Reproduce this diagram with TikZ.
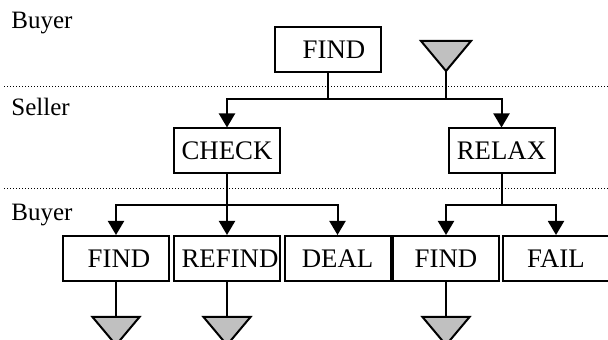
\documentclass[tikz,border=0pt]{standalone}
\usepackage{fontspec}
\setmainfont{Liberation Serif}
\definecolor{LineColor}{RGB}{0,0,0}
\definecolor{StubColor}{RGB}{192,192,192}
\usetikzlibrary{arrows.meta, calc}
\tikzstyle{move} = [draw=LineColor, line width=1pt, minimum width=53pt, minimum height=22.5pt, inner sep=0pt, font=\fontsize{13.4}{16}\selectfont]
\tikzstyle{arrow} = [line width=1pt, LineColor, -{Triangle[width=8pt,length=7pt]}]
\tikzstyle{link} = [line width=1pt, LineColor]
\tikzstyle{stub} = [line width=1pt, draw=LineColor, fill=StubColor, line join=miter]
\tikzstyle{level} = [line width=0.5pt, LineColor, dash pattern=on 0.5pt off 1pt]
\tikzstyle{role} = [anchor=base west, inner sep=0pt]

\begin{document}
\begin{tikzpicture}[x=0.5pt, y=-0.5pt, font=\fontsize{12.5}{15}\selectfont]
            \useasboundingbox (0,0) rectangle (608,340);
            \clip (0,0) rectangle (608,340);

            % level separators
            \draw[level] (4,87) -- (608,87);
            \draw[level] (4,189) -- (608,189);
            \node[role] (buyer1) at (11,29) {Buyer};
            \node[role] (seller) at (11,116) {Seller};
            \node[role] (buyer2) at (11,221) {Buyer};

            % Buyer: first move
            \node[move] (find0) at (328,49.5) {\hspace*{6pt}FIND};
            \coordinate (t0) at (446,71);
            \draw[stub] (t0) -- ++(-25,-30) -- ++(50,0) -- cycle;

            % Seller
            \node[move] (check) at (227,151) {CHECK};
            \node[move] (relax) at (501.5,151) {RELAX};
            \coordinate (bus1) at (0,99);
            \draw[link] (t0) -- (t0 |- bus1);
            \draw[arrow] (find0.south) -- (find0.south |- bus1) -| (check.north);
            \draw[arrow] (find0.south |- bus1) -| (relax.north);

            % Buyer: answers
            \node[move] (find1) at (116,258.5) {\hspace*{3pt}FIND};
            \node[move] (refind) at (227,258.5) {\hspace*{3pt}REFIND};
            \node[move] (deal) at (337.5,258.5) {\raisebox{-1pt}{DEAL}};
            \node[move] (find2) at (446,258.5) {FIND};
            \node[move] (fail) at (556,258.5) {FAIL};
            \coordinate (bus2) at (0,205);
            \draw[arrow] (check.south) -- (refind.north);
            \draw[arrow] (check.south |- bus2) -| (find1.north);
            \draw[arrow] (check.south |- bus2) -| (deal.north);
            \draw[link] (relax.south) -- (relax.south |- bus2);
            \draw[arrow] (relax.south |- bus2) -| (find2.north);
            \draw[arrow] (relax.south |- bus2) -| (fail.north);

            % open ends
            \coordinate (t1) at (116,317);
            \coordinate (t2) at (227,317);
            \coordinate (t3) at (446,317);
            \draw[link] (find1.south) -- (t1);
            \draw[link] (refind.south) -- (t2);
            \draw[link] (find2.south) -- (t3);
            \draw[stub] (t1) -- ++(-23.5,0) -- ++(23.5,28) -- ++(23.5,-28) -- cycle;
            \draw[stub] (t2) -- ++(-23.5,0) -- ++(23.5,28) -- ++(23.5,-28) -- cycle;
            \draw[stub] (t3) -- ++(-23.5,0) -- ++(23.5,28) -- ++(23.5,-28) -- cycle;
        \end{tikzpicture}
\end{document}
